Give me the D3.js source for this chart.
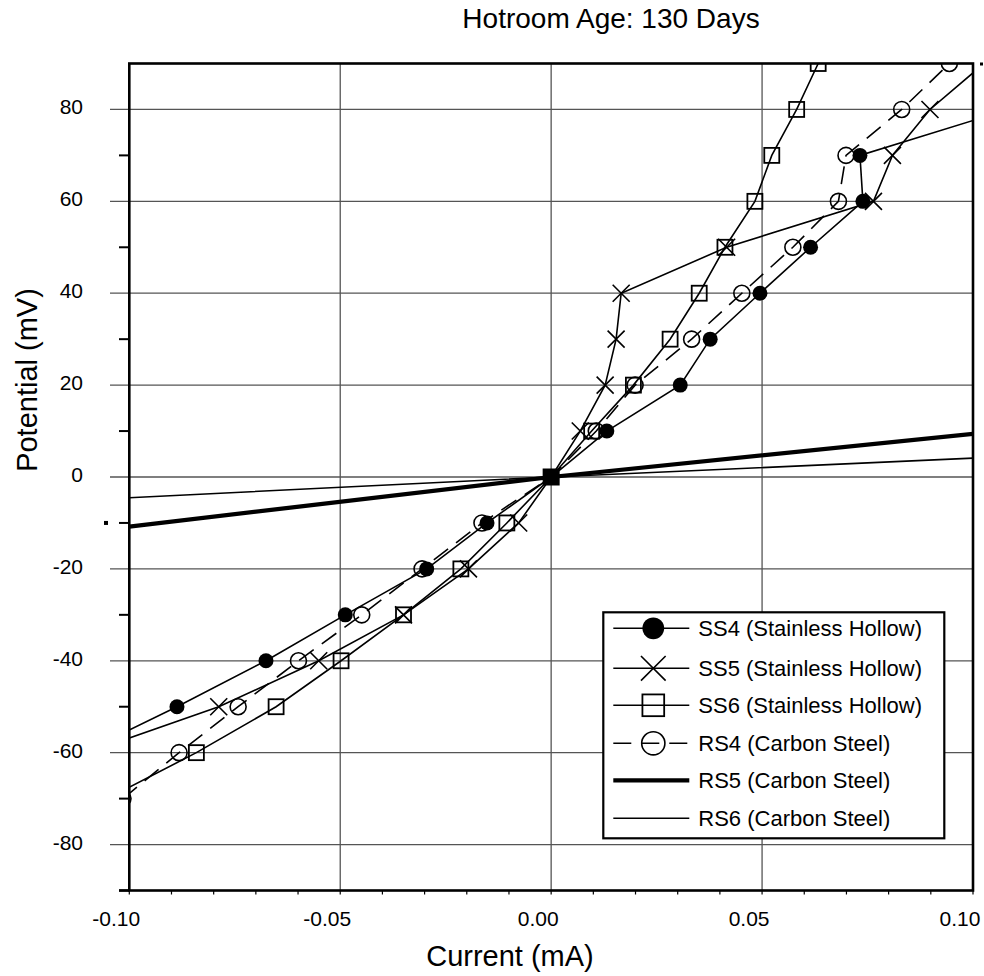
<!DOCTYPE html>
<html>
<head>
<meta charset="utf-8">
<script src="https://cdn.jsdelivr.net/npm/d3@7"></script>
<style>
  body { margin: 0; background: #fff; }
  svg { display: block; font-family: "Liberation Sans", Arial, sans-serif; }
</style>
</head>
<body>
<svg id="chart" width="984" height="976"></svg>
<script>
// data (current in mA, potential in mV)
const potSS4 = [-60, -50, -40, -30, -20, -10, 0, 10, 20, 30, 40, 50, 60, 70, 80];
const curSS4 = [-0.111, -0.0887, -0.0676, -0.0488, -0.0295, -0.0152, 0, 0.0132, 0.0306, 0.0377, 0.0495, 0.0615, 0.0739, 0.0732, 0.1085];

const potSS5 = [-60, -50, -40, -30, -20, -10, 0, 10, 20, 30, 40, 50, 60, 70, 80, 90];
const curSS5 = [-0.110, -0.0788, -0.0551, -0.035, -0.0196, -0.0077, 0, 0.0069, 0.0128, 0.0154, 0.0166, 0.0416, 0.0764, 0.0809, 0.0898, 0.1026];

const potSS6 = [-70, -60, -50, -40, -30, -20, -10, 0, 10, 20, 30, 40, 50, 60, 70, 80, 90];
const curSS6 = [-0.1053, -0.0841, -0.0652, -0.0498, -0.035, -0.0214, -0.0105, 0, 0.0096, 0.0195, 0.0282, 0.0351, 0.0412, 0.0483, 0.0523, 0.0582, 0.0633];

const potRS4 = [-70, -60, -50, -40, -30, -20, -10, 0, 10, 20, 30, 40, 50, 60, 70, 80, 90];
const curRS4 = [-0.1015, -0.0882, -0.0742, -0.0599, -0.0449, -0.0306, -0.0164, 0, 0.0107, 0.0199, 0.0333, 0.0452, 0.0573, 0.0681, 0.0699, 0.0831, 0.0944];

const potRS5 = [-10.8, 0, 9.4];
const curRS5 = [-0.1, 0, 0.1];

const potRS6 = [-4.5, 0, 4.1];
const curRS6 = [-0.1, 0, 0.1];

const seriesNames = ['SS4 (Stainless Hollow)', 'SS5 (Stainless Hollow)', 'SS6 (Stainless Hollow)',
                     'RS4 (Carbon Steel)', 'RS5 (Carbon Steel)', 'RS6 (Carbon Steel)'];
const xTicks = [-0.10, -0.05, 0.00, 0.05, 0.10];
const yTicks = [-80, -60, -40, -20, 0, 20, 40, 60, 80];
const commonPoint = [0, 0];

// build series list
const zip = (c, p) => c.map((v, i) => ({ x: v, y: p[i] }));
const series = [
  { name: seriesNames[0], pts: zip(curSS4, potSS4), marker: 'dot', width: 1.6, dash: null },
  { name: seriesNames[1], pts: zip(curSS5, potSS5), marker: 'cross', width: 1.6, dash: null },
  { name: seriesNames[2], pts: zip(curSS6, potSS6), marker: 'square', width: 1.6, dash: null },
  { name: seriesNames[3], pts: zip(curRS4, potRS4), marker: 'circle', width: 1.6, dash: '18,10' },
  { name: seriesNames[4], pts: zip(curRS5, potRS5), marker: null, width: 4.2, dash: null },
  { name: seriesNames[5], pts: zip(curRS6, potRS6), marker: null, width: 1.6, dash: null }
];

const svg = d3.select('#chart');
const pLeft = 129.3, pRight = 973, pTop = 63.5, pBottom = 890.5;

const x = d3.scaleLinear().domain([-0.1, 0.1]).range([pLeft, pRight]);
const y = d3.scaleLinear().domain([-90, 90]).range([pBottom, pTop]);

// plain hyphen for negative numbers, like the source
const hyph = f => d => f(d).replace('\u2212', '-');

// title
svg.append('text')
  .attr('x', 611).attr('y', 28)
  .attr('text-anchor', 'middle')
  .style('font-size', '28px')
  .text('Hotroom Age: 130 Days');

// grid
const grid = svg.append('g').attr('class', 'grid');
grid.selectAll('line.h')
  .data(yTicks)
  .enter().append('line')
    .attr('x1', 110).attr('x2', pRight)
    .attr('y1', d => y(d)).attr('y2', d => y(d))
    .attr('stroke', '#555').attr('stroke-width', 1.3);
grid.selectAll('line.v')
  .data(xTicks.slice(1, -1))
  .enter().append('line')
    .attr('x1', d => x(d)).attr('x2', d => x(d))
    .attr('y1', pTop).attr('y2', pBottom)
    .attr('stroke', '#555').attr('stroke-width', 1.3);

// minor ticks on the y axis
const yMinor = d3.range(-90, 80, 20);
svg.append('g').selectAll('line')
  .data(yMinor)
  .enter().append('line')
    .attr('x1', 119).attr('x2', pLeft)
    .attr('y1', d => y(d)).attr('y2', d => y(d))
    .attr('stroke', '#000').attr('stroke-width', 2);

// minor ticks on the x axis
const xMinor = d3.range(-10, 11).map(d => d / 100);
svg.append('g').selectAll('line')
  .data(xMinor)
  .enter().append('line')
    .attr('x1', d => x(d)).attr('x2', d => x(d))
    .attr('y1', pBottom).attr('y2', pBottom + 4)
    .attr('stroke', '#000').attr('stroke-width', 1.2);

// tick labels
svg.append('g').selectAll('text')
  .data(yTicks)
  .enter().append('text')
    .attr('x', 83).attr('y', d => y(d) + 5)
    .attr('text-anchor', 'end')
    .style('font-size', '21px')
    .text(hyph(d3.format('d')));
svg.append('g').selectAll('text')
  .data(xTicks)
  .enter().append('text')
    .attr('x', d => x(d) - 13).attr('y', pBottom + 35)
    .attr('text-anchor', 'middle')
    .style('font-size', '21px')
    .text(hyph(d3.format('.2f')));

// stray marks in the source picture
svg.append('rect').attr('x', 104).attr('y', y(-10) - 2).attr('width', 4).attr('height', 4).attr('fill', '#000');
svg.append('rect').attr('x', 980).attr('y', y(90) - 1).attr('width', 3).attr('height', 3).attr('fill', '#000');

// axis titles
svg.append('text')
  .attr('x', 510).attr('y', 966)
  .attr('text-anchor', 'middle')
  .style('font-size', '29px')
  .text('Current (mA)');
svg.append('text')
  .attr('transform', 'translate(37,380) rotate(-90)')
  .attr('text-anchor', 'middle')
  .style('font-size', '29px')
  .text('Potential (mV)');

// clip for the plotting area
svg.append('clipPath').attr('id', 'plotclip')
  .append('rect')
    .attr('x', pLeft).attr('y', pTop)
    .attr('width', pRight - pLeft).attr('height', pBottom - pTop);

const plot = svg.append('g').attr('clip-path', 'url(#plotclip)');

const line = d3.line().x(d => x(d.x)).y(d => y(d.y));

// marker drawing
function drawMarker(sel, type, s) {
  const r = 7.5 * s;
  if (type === 'dot') {
    sel.append('circle').attr('r', r).attr('fill', '#000');
  } else if (type === 'circle') {
    sel.append('circle').attr('r', 8 * s).attr('fill', 'none')
      .attr('stroke', '#000').attr('stroke-width', 1.6);
  } else if (type === 'square') {
    sel.append('rect').attr('x', -r).attr('y', -r).attr('width', 2 * r).attr('height', 2 * r)
      .attr('fill', 'none').attr('stroke', '#000').attr('stroke-width', 1.8);
  } else if (type === 'cross') {
    const c = 8.5 * s;
    sel.append('path').attr('d', `M${-c},${-c}L${c},${c}M${-c},${c}L${c},${-c}`)
      .attr('stroke', '#000').attr('stroke-width', 1.6).attr('fill', 'none');
  }
}

series.forEach(sr => {
  plot.append('path')
    .datum(sr.pts)
    .attr('d', line)
    .attr('fill', 'none')
    .attr('stroke', '#000')
    .attr('stroke-width', sr.width)
    .attr('stroke-dasharray', sr.dash);
});

series.forEach(sr => {
  if (!sr.marker) return;
  plot.append('g').selectAll('g')
    .data(sr.pts.filter(d => !(d.x === 0 && d.y === 0)))
    .enter().append('g')
      .attr('transform', d => `translate(${x(d.x)},${y(d.y)})`)
      .each(function () { drawMarker(d3.select(this), sr.marker, 1); });
});

// all series meet at the origin: solid block there
plot.append('rect')
  .attr('x', x(commonPoint[0]) - 8.5).attr('y', y(commonPoint[1]) - 8.5)
  .attr('width', 17).attr('height', 17).attr('fill', '#000');

// plot frame
svg.append('rect')
  .attr('x', pLeft).attr('y', pTop)
  .attr('width', pRight - pLeft).attr('height', pBottom - pTop)
  .attr('fill', 'none').attr('stroke', '#000').attr('stroke-width', 2.6);
svg.append('line')
  .attr('x1', 119).attr('x2', pLeft)
  .attr('y1', pBottom).attr('y2', pBottom)
  .attr('stroke', '#000').attr('stroke-width', 2.6);

// legend
const lg = svg.append('g').attr('transform', 'translate(603.3,612.3)');
lg.append('rect')
  .attr('width', 341).attr('height', 226)
  .attr('fill', '#fff').attr('stroke', '#000').attr('stroke-width', 2.2);

const rowY = [16, 56, 93, 131, 168, 206];
series.forEach((sr, i) => {
  const row = lg.append('g').attr('transform', `translate(0,${rowY[i]})`);
  row.append('line')
    .attr('x1', 10).attr('x2', 86)
    .attr('stroke', '#000')
    .attr('stroke-width', sr.width)
    .attr('stroke-dasharray', sr.dash);
  if (sr.marker) {
    const m = row.append('g').attr('transform', 'translate(50,0)');
    drawMarker(m, sr.marker, 1.45);
  }
  row.append('text')
    .attr('x', 95).attr('y', 8)
    .style('font-size', '22px')
    .text(sr.name);
});
</script>
</body>
</html>
